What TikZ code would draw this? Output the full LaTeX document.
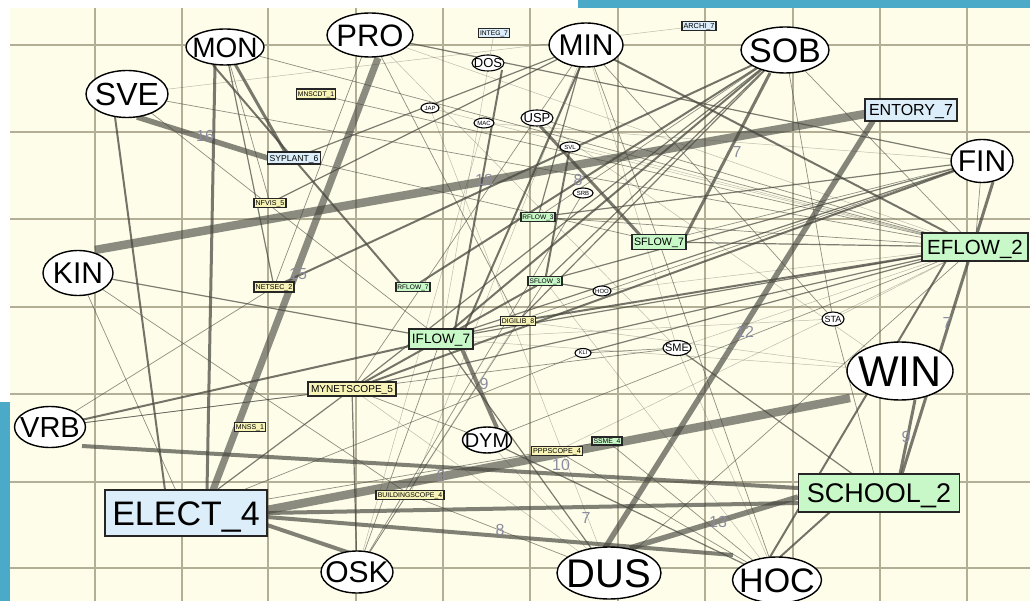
\documentclass[tikz,border=0pt]{standalone}
\usepackage{fontspec}
\setmainfont{Liberation Sans}
\usetikzlibrary{shapes.geometric,calc}
\pgfdeclarelayer{gridlayer}
\pgfdeclarelayer{edgelayer}
\pgfsetlayers{gridlayer,edgelayer,main}
\definecolor{cream}{RGB}{254,253,233}
\definecolor{bandc}{RGB}{75,170,200}
\definecolor{gridc}{RGB}{178,175,150}
\definecolor{edgec}{RGB}{70,70,62}
\definecolor{lblc}{RGB}{140,140,160}
\definecolor{nblue}{RGB}{220,238,250}
\definecolor{ngreen}{RGB}{200,248,200}
\definecolor{nyellow}{RGB}{248,244,184}
\newcommand{\ctxt}[2]{\smash{\makebox[0pt]{\fontsize{#1}{#1}\selectfont\raisebox{-0.358em}{#2}}}}
\tikzset{
  ell/.style={ellipse, draw=black, line width=1.4pt, fill=white, inner sep=0pt, outer sep=0pt},
  sell/.style={ellipse, draw=black, line width=1.1pt, fill=white, inner sep=0pt, outer sep=0pt},
  bbox/.style={rectangle, draw=black!85, line width=1.4pt, inner sep=0pt, outer sep=0pt},
  sbox/.style={rectangle, draw=black!85, line width=1.1pt, inner sep=0pt, outer sep=0pt},
  gridl/.style={draw=gridc, line width=1.6pt},
  eA/.style={draw=edgec, line width=8.5pt, draw opacity=0.62},
  eB/.style={draw=edgec, line width=7pt, draw opacity=0.62},
  eC/.style={draw=edgec, line width=5.5pt, draw opacity=0.65},
  eD/.style={draw=edgec, line width=4pt, draw opacity=0.68},
  eE/.style={draw=edgec, line width=3pt, draw opacity=0.72},
  eF/.style={draw=edgec, line width=2pt, draw opacity=0.75},
  eG/.style={draw=edgec, line width=1.2pt, draw opacity=0.7},
  eH/.style={draw=edgec, line width=0.7pt, draw opacity=0.6},
  eI/.style={draw=edgec, line width=0.5pt, draw opacity=0.35},
  lbl/.style={inner sep=0pt, text=lblc, font=\fontsize{16}{16}\selectfont}
}
\begin{document}
\begin{tikzpicture}[x=1pt,y=-1pt]
\useasboundingbox (0,0) rectangle (1030,601);
\begin{pgfonlayer}{gridlayer}
\fill[white] (0,0) rectangle (1030,601);
\fill[bandc] (578,0) rectangle (1030,8);
\fill[bandc] (0,402) rectangle (10,601);
\fill[cream] (10,8) rectangle (1030,601);
\foreach \x in {95,182,268,356,443,530,618,705,793,880,967} \draw[gridl] (\x,8) -- (\x,601);
\foreach \y in {45,132,219,307,394,482,568} \draw[gridl] (10,\y) -- (1030,\y);
\end{pgfonlayer}

% ellipse nodes
\node[ell, minimum width=78pt, minimum height=36pt] (MON) at (225,47) {\ctxt{28}{MON}};
\node[ell, minimum width=86pt, minimum height=44pt] (PRO) at (370,35) {\ctxt{31}{PRO}};
\node[ell, minimum width=74pt, minimum height=44pt] (MIN) at (586,45) {\ctxt{30}{MIN}};
\node[ell, minimum width=88pt, minimum height=46pt] (SOB) at (785,50) {\ctxt{34}{SOB}};
\node[ell, minimum width=82pt, minimum height=47pt] (SVE) at (127,94) {\ctxt{32}{SVE}};
\node[ell, minimum width=62pt, minimum height=43pt] (FIN) at (982,161) {\ctxt{30}{FIN}};
\node[ell, minimum width=70pt, minimum height=45pt] (KIN) at (78,273) {\ctxt{30}{KIN}};
\node[ell, minimum width=71pt, minimum height=41pt] (VRB) at (50,427) {\ctxt{29}{VRB}};
\node[ell, minimum width=106pt, minimum height=58pt] (WIN) at (900,371) {\ctxt{43}{WIN}};
\node[ell, minimum width=89pt, minimum height=46pt] (HOC) at (777,580) {\ctxt{34}{HOC}};
\node[ell, minimum width=104pt, minimum height=52pt] (DUS) at (609,573) {\ctxt{40}{DUS}};
\node[ell, minimum width=72pt, minimum height=42pt] (OSK) at (357,572) {\ctxt{30}{OSK}};
\node[ell, minimum width=49pt, minimum height=26pt] (DYM) at (487,440) {\ctxt{20}{DYM}};
\node[sell, minimum width=32pt, minimum height=16pt] (DOS) at (488,63) {\ctxt{13}{DOS}};
\node[sell, minimum width=32pt, minimum height=16pt] (USP) at (537,118) {\ctxt{13}{USP}};
\node[sell, minimum width=28pt, minimum height=15pt] (SME) at (677,348) {\ctxt{11}{SME}};
\node[sell, minimum width=22pt, minimum height=14pt] (STA) at (833,319) {\ctxt{9}{STA}};
\node[sell, minimum width=18pt, minimum height=10pt] (JAP) at (430,108) {\ctxt{6}{JAP}};
\node[sell, minimum width=20pt, minimum height=10pt] (MAC) at (484,123) {\ctxt{6}{MAC}};
\node[sell, minimum width=20pt, minimum height=10pt] (SVL) at (570,147) {\ctxt{6}{SVL}};
\node[sell, minimum width=20pt, minimum height=10pt] (SRB) at (583,193) {\ctxt{6}{SRB}};
\node[sell, minimum width=18pt, minimum height=10pt] (HOO) at (602,291) {\ctxt{6}{HOO}};
\node[sell, minimum width=16pt, minimum height=9pt] (KLI) at (583,353) {\ctxt{5.5}{KLI}};

% box nodes
\node[bbox, fill=nblue, minimum width=92pt, minimum height=22pt] (ENTORY7) at (911,110) {\ctxt{16}{ENTORY\_7}};
\node[bbox, fill=ngreen, minimum width=106pt, minimum height=28pt] (EFLOW2) at (975,247) {\ctxt{20.5}{EFLOW\_2}};
\node[bbox, fill=ngreen, minimum width=161pt, minimum height=38pt] (SCHOOL2) at (879,493) {\ctxt{27}{SCHOOL\_2}};
\node[bbox, fill=nblue, minimum width=162pt, minimum height=46pt] (ELECT4) at (186,513) {\ctxt{34}{ELECT\_4}};
\node[bbox, fill=ngreen, minimum width=64pt, minimum height=20pt] (IFLOW7) at (441,339) {\ctxt{13.6}{IFLOW\_7}};
\node[sbox, fill=ngreen, minimum width=54pt, minimum height=15pt] (SFLOW7) at (659,242) {\ctxt{10.7}{SFLOW\_7}};
\node[sbox, fill=nyellow, minimum width=88pt, minimum height=14pt] (MYNETSCOPE5) at (352,389) {\ctxt{10.1}{MYNETSCOPE\_5}};
\node[sbox, fill=nblue, minimum width=53pt, minimum height=12pt] (SYPLANT6) at (294,158) {\ctxt{8.6}{SYPLANT\_6}};
\node[sbox, fill=nyellow, minimum width=39pt, minimum height=10pt] (MNSCDT1) at (316,94) {\ctxt{6.7}{MNSCDT\_1}};
\node[sbox, fill=nblue, minimum width=31pt, minimum height=9pt] (INTEG7) at (494,33) {\ctxt{6.7}{INTEG\_7}};
\node[sbox, fill=nblue, minimum width=34pt, minimum height=9pt] (ARCHI7) at (699,26) {\ctxt{7.3}{ARCHI\_7}};
\node[sbox, fill=nyellow, minimum width=32pt, minimum height=9pt] (NFVIS5) at (270,203) {\ctxt{7.1}{NFVIS\_5}};
\node[sbox, fill=nyellow, minimum width=40pt, minimum height=10pt] (NETSEC2) at (274,287) {\ctxt{7.1}{NETSEC\_2}};
\node[sbox, fill=ngreen, minimum width=34pt, minimum height=9pt] (RFLOW7) at (413,287) {\ctxt{6.6}{RFLOW\_7}};
\node[sbox, fill=ngreen, minimum width=34pt, minimum height=9pt] (RFLOW3) at (538,217) {\ctxt{6.6}{RFLOW\_3}};
\node[sbox, fill=ngreen, minimum width=34pt, minimum height=9pt] (SFLOW3) at (545,281) {\ctxt{6.6}{SFLOW\_3}};
\node[sbox, fill=nyellow, minimum width=35pt, minimum height=9pt] (DIGILIB8) at (518,321) {\ctxt{6.9}{DIGILIB\_8}};
\node[sbox, fill=nyellow, minimum width=31pt, minimum height=9pt] (MNSS1) at (250,427) {\ctxt{7}{MNSS\_1}};
\node[sbox, fill=nyellow, minimum width=51pt, minimum height=9pt] (PPPSCOPE4) at (557,451) {\ctxt{7.2}{PPPSCOPE\_4}};
\node[sbox, fill=ngreen, minimum width=30pt, minimum height=8pt] (SSME4) at (607,441) {\ctxt{6.8}{SSME\_4}};
\node[sbox, fill=nyellow, minimum width=68pt, minimum height=9pt] (BUILDINGSCOPE4) at (410,495) {\ctxt{6.9}{BUILDINGSCOPE\_4}};

\begin{pgfonlayer}{edgelayer}
% heavy edges
\draw[eC] ($(SVE)+(10,23)$) -- (SYPLANT6.west);
\draw[eA] ($(KIN)+(17,-23)$) -- ($(ENTORY7.west)+(0,4)$);
\draw[eB] ($(PRO)+(8,23)$) -- ($(ELECT4)+(27,-23)$);
\draw[eC] ($(ENTORY7)+(-38,11)$) -- ($(DUS)+(-4,-25)$);
\draw[eA] ($(ELECT4)+(81,-3)$) -- ($(WIN)+(-50,27)$);
\draw[eD] ($(VRB)+(32,19)$) -- ($(SCHOOL2)+(-81,-5)$);
\draw[eD] ($(ELECT4)+(81,4)$) -- ($(HOC)+(-44,-25)$);
\draw[eC] ($(DUS)+(21,-25)$) -- ($(SCHOOL2)+(-81,4)$);
\draw[eD] ($(ELECT4)+(81,0)$) -- ($(SCHOOL2)+(-81,10)$);
\draw[eD] ($(IFLOW7)+(21,10)$) -- ($(DYM)+(10,-12)$);
\draw[eE] ($(USP)+(3,8)$) -- ($(SFLOW7)+(-19,-7)$);
\draw[eE] ($(SOB)+(-15,23)$) -- ($(SFLOW7)+(27,-7)$);
\draw[eE] ($(FIN)+(11,21)$) -- ($(SCHOOL2)+(23,-19)$);
\draw[eE] ($(WIN)+(15,29)$) -- ($(SCHOOL2)+(21,-19)$);
\draw[eD] ($(ELECT4)+(81,12)$) -- ($(OSK)+(-7,-19)$);
\draw[eE] ($(MON)+(-10,18)$) -- ($(ELECT4)+(21,-23)$);
\draw[eF] ($(SVE)+(-12,23)$) -- ($(ELECT4)+(-21,-23)$);
\draw[eF] ($(EFLOW2)+(-29,14)$) -- ($(HOC)+(-7,-23)$);
\draw[eF] ($(HOC)+(3,-23)$) -- ($(SCHOOL2)+(-49,19)$);
\draw[eE] ($(MON)+(10,17)$) -- ($(SYPLANT6)+(-9,-6)$);
\draw[eF] ($(MON)+(-12,18)$) -- ($(RFLOW7)+(-13,-4)$);
\draw[eF] ($(IFLOW7)+(14,-10)$) -- ($(DOS)+(14,7)$);
\draw[eF] ($(IFLOW7)+(24,-10)$) -- ($(MIN)+(-6,22)$);
% medium edges
\draw[eF] (MYNETSCOPE5) -- (SFLOW3);
\draw[eF] (NETSEC2) -- (SOB);
\draw[eF] (RFLOW7) -- (SOB);
\draw[eF] (MIN) -- (EFLOW2);
\draw[eF] (SOB) -- (IFLOW7);
\draw[eF] (SVL) -- (SFLOW3);
\draw[eF] (VRB) -- (IFLOW7);
\draw[eF] (FIN) -- (MYNETSCOPE5);
\draw[eF] (EFLOW2) -- (DIGILIB8);
% lighter edges
\draw[eG] (KIN) -- (IFLOW7);
\draw[eG] (IFLOW7) -- (DIGILIB8);
\draw[eG] (FIN) -- (IFLOW7);
\draw[eG] (FIN) -- (SFLOW3);
\draw[eG] (FIN) -- (RFLOW3);
\draw[eG] (SME) -- (SCHOOL2);
\draw[eG] (SFLOW3) -- (HOO);
\draw[eG] (MYNETSCOPE5) -- (OSK);
\draw[eG] (EFLOW2) -- (KLI);
\draw[eG] (EFLOW2) -- (SFLOW7);
\draw[eG] (EFLOW2) -- (IFLOW7);
\draw[eG] (NFVIS5) -- (MIN);
\draw[eG] (MON) -- (NETSEC2);
\draw[eG] (PRO) -- (FIN);
\draw[eG] (SOB) -- (DIGILIB8);
\draw[eG] (SOB) -- (MYNETSCOPE5);
\draw[eG] (SOB) -- (SFLOW3);
\draw[eG] (DYM) -- (HOC);
\draw[eG] (ELECT4) -- (MYNETSCOPE5);
\draw[eG] (MIN) -- (SYPLANT6);
\draw[eG] (MIN) -- (RFLOW3);
\draw[eG] (DUS) -- (IFLOW7);
\draw[eG] (MYNETSCOPE5) -- (EFLOW2);
% thin edges
\draw[eH] (KIN) -- (ELECT4);
\draw[eH] (KIN) -- (BUILDINGSCOPE4);
\draw[eH] (SVE) -- (IFLOW7);
\draw[eH] (VRB) -- (NETSEC2);
\draw[eH] (VRB) -- (MYNETSCOPE5);
\draw[eH] (VRB) -- (SME);
\draw[eH] (ELECT4) -- (KLI);
\draw[eH] (ELECT4) -- (SSME4);
\draw[eH] (STA) -- (SCHOOL2);
\draw[eH] (PRO) -- (NETSEC2);
\draw[eH] (PRO) -- (DIGILIB8);
\draw[eH] (MON) -- (EFLOW2);
\draw[eH] (MON) -- (NFVIS5);
\draw[eH] (DUS) -- (BUILDINGSCOPE4);
\draw[eH] (HOC) -- (PPPSCOPE4);
\draw[eH] (HOC) -- (SFLOW7);
\draw[eH] (OSK) -- (IFLOW7);
\draw[eH] (OSK) -- (SFLOW3);
\draw[eH] (EFLOW2) -- (USP);
\draw[eH] (EFLOW2) -- (RFLOW3);
\draw[eH] (EFLOW2) -- (DYM);
\draw[eH] (EFLOW2) -- (SOB);
\draw[eH] (EFLOW2) -- (FIN);
\draw[eH] (FIN) -- (SFLOW7);
\draw[eH] (FIN) -- (DIGILIB8);
\draw[eH] (MNSCDT1) -- (EFLOW2);
\draw[eH] (SYPLANT6) -- (SFLOW7);
\draw[eH] (DYM) -- (MYNETSCOPE5);
\draw[eH] (SSME4) -- (HOC);
\draw[eH] (SOB) -- (STA);
\draw[eH] (MIN) -- (SFLOW7);
\draw[eH] (MIN) -- (MYNETSCOPE5);
\draw[eH] (MIN) -- (STA);
\draw[eH] (SOB) -- (RFLOW3);
\draw[eH] (DUS) -- (EFLOW2);
\draw[eH] (SVE) -- (EFLOW2);
\draw[eH] (SRB) -- (OSK);
\draw[eH] (KLI) -- (SME);
% faint edges
\draw[eI] (USP) -- (WIN);
\draw[eI] (DIGILIB8) -- (WIN);
\draw[eI] (JAP) -- (EFLOW2);
\draw[eI] (MAC) -- (FIN);
\draw[eI] (ARCHI7) -- (SVE);
\draw[eI] (INTEG7) -- (IFLOW7);
\draw[eI] (SVL) -- (EFLOW2);
\draw[eI] (PRO) -- (SME);
\draw[eI] (DUS) -- (MYNETSCOPE5);
\draw[eI] (EFLOW2) -- (SME);
\draw[eI] (EFLOW2) -- (PPPSCOPE4);
\draw[eI] (EFLOW2) -- (STA);
\draw[eI] (EFLOW2) -- (HOO);
\draw[eI] (EFLOW2) -- (PRO);
\draw[eI] (WIN) -- (IFLOW7);
\draw[eI] (STA) -- (IFLOW7);
\draw[eI] (MIN) -- (BUILDINGSCOPE4);
\draw[eI] (OSK) -- (DIGILIB8);
\draw[eI] (DUS) -- (DYM);
\draw[eI] (HOC) -- (SFLOW3);
\draw[eI] (SME) -- (MIN);
\draw[eI] (HOC) -- (SME);
\draw[eI] (JAP) -- (DUS);
\draw[eI] (MAC) -- (OSK);
\end{pgfonlayer}

% edge labels
\node[lbl] (L16) at (205,136) {16};
\node[lbl] (L18) at (484,180) {18};
\node[lbl] (L8a) at (578,180) {8};
\node[lbl] (L15) at (298,274) {15};
\node[lbl] (L7a) at (737,152) {7};
\node[lbl] (L12) at (745,332) {12};
\node[lbl] (L7b) at (947,323) {7};
\node[lbl] (L9a) at (484,384) {9};
\node[lbl] (L9b) at (906,437) {9};
\node[lbl] (L10) at (561,465) {10};
\node[lbl] (L9c) at (441,476) {9};
\node[lbl] (L8b) at (500,530) {8};
\node[lbl] (L7c) at (586,518) {7};
\node[lbl] (L13) at (718,522) {13};
\end{tikzpicture}
\end{document}
